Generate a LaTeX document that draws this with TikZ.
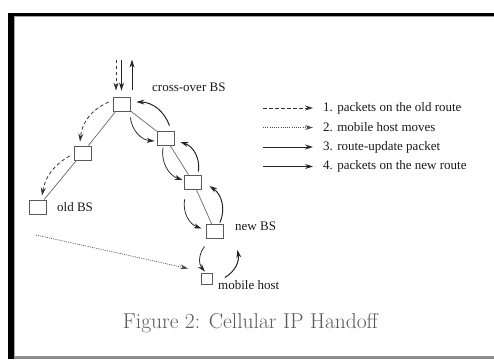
\documentclass[tikz,border=0pt]{standalone}
\usepackage{fontspec}
\usetikzlibrary{arrows.meta}
\newfontfamily\labelfont{Liberation Serif}

\begin{document}
\begin{tikzpicture}[x=1pt,y=-1pt,
  box/.style={draw=black!65,line width=0.8pt,minimum width=17pt,minimum height=14pt,inner sep=0pt},
  hostbox/.style={box,minimum width=11pt,minimum height=11pt},
  lbl/.style={font=\labelfont\fontsize{13}{15}\selectfont,text=black!90,inner sep=0pt,anchor=west},
  link/.style={draw=black!60,line width=0.7pt},
  tip/.style={-{Stealth[length=8pt,width=5pt]}},
  oldpk/.style={tip,black!80,line width=0.8pt,dash pattern=on 3.5pt off 2.5pt},
  moves/.style={tip,black!70,line width=0.7pt,dash pattern=on 1pt off 1.2pt},
  update/.style={tip,black!85,line width=1pt},
  newpk/.style={tip,black!85,line width=0.75pt}]
  \useasboundingbox (0,0) rectangle (494,359);
  % page frame
  \fill[black] (8,13) rectangle (494,15.5);
  \fill[black] (8,13) rectangle (14,359);
  \fill[black!35] (14,15.5) rectangle (494,16.5);
  \fill[black!35] (14,15.5) rectangle (15,359);
  \fill[black!45] (14,355.5) rectangle (494,359);

  % base stations
  \node[box] (xo) at (121.5,104) {};
  \node[box] (m1) at (82.5,153) {};
  \node[box] (old) at (38,207) {};
  \node[box] (r1) at (165.5,138) {};
  \node[box] (r2) at (193,182) {};
  \node[box] (nbs) at (215,231.5) {};
  \node[hostbox] (mh) at (207,278.5) {};

  \draw[link] (xo) -- (m1) -- (old);
  \draw[link] (xo) -- (r1) -- (r2) -- (nbs);

  \node[lbl] (xolbl) at (152,87) {cross-over BS};
  \node[lbl] (oldlbl) at (57,207) {old BS};
  \node[lbl] (nbslbl) at (235,226) {new BS};
  \node[lbl] (mhlbl) at (218,285) {mobile host};

  % traffic at the cross-over BS
  \draw[oldpk] ([shift={(-5.5,-37)}]xo.north) -- ([shift={(-5.5,-6)}]xo.north);
  \draw[newpk] ([shift={(0,-37)}]xo.north) -- ([shift={(0,-6)}]xo.north);
  \draw[update] ([shift={(10.5,-7)}]xo.north) -- ([shift={(10.5,-37)}]xo.north);

  % old route
  \draw[oldpk] ([shift={(-4,-2)}]xo.west) to[bend right=30] ([shift={(-2.5,-4)}]m1.north);
  \draw[oldpk] ([shift={(-4,3)}]m1.west) to[bend right=25] ([shift={(4,-4)}]old.north);

  % new route, downwards
  \draw[newpk] ([shift={(0,6)}]xo.south east) to[bend right=40] ([shift={(-2,3)}]r1.west);
  \draw[newpk] ([shift={(-2.5,2)}]r1.south) to[bend right=40] ([shift={(-1.5,-2)}]r2.west);
  \draw[newpk] ([shift={(0.5,10)}]r2.south west) to[bend right=40] ([shift={(-4.5,-3)}]nbs.west);
  \draw[newpk] ([shift={(-1.5,7.5)}]nbs.south west) to[bend right=40] ([shift={(-2,-1)}]mh.north);

  % route-update, upwards
  \draw[update] ([shift={(12,-1)}]mh.east) to[bend right=35] ([shift={(13.5,11)}]nbs.south east);
  \draw[update] ([shift={(-4,-1.5)}]nbs.north east) to[bend right=40] ([shift={(7.5,4)}]r2.east);
  \draw[update] ([shift={(-3.5,-3)}]r2.north east) to[bend right=40] ([shift={(6,4)}]r1.east);
  \draw[update] ([shift={(-5,-5)}]r1.north east) to[bend right=35] ([shift={(6,-2)}]xo.east);

  % host moves
  \coordinate (from) at (36,235);
  \draw[moves] (from) -- ([shift={(-13,-10)}]mh.west);

  % legend
  \node[lbl] (k1) at (323,108) {1. packets on the old route};
  \node[lbl] (k2) at (323,127.5) {2. mobile host moves};
  \node[lbl] (k3) at (323,147) {3. route-update packet};
  \node[lbl] (k4) at (323,166.5) {4. packets on the new route};
  \coordinate (s1) at (263,108);
  \coordinate (s2) at (263,127.5);
  \coordinate (s3) at (263,147);
  \coordinate (s4) at (263,166.5);
  \draw[oldpk,shorten >=10pt] (s1) -- (s1 -| k1.west);
  \draw[moves,shorten >=10pt] (s2) -- (s2 -| k2.west);
  \draw[update,shorten >=10pt] (s3) -- (s3 -| k3.west);
  \draw[newpk,shorten >=10pt] (s4) -- (s4 -| k4.west);

  \node[font=\fontsize{21.5}{25}\selectfont,text=black!65] (cap) at (250.5,323) {Figure 2: Cellular IP Handoff};
\end{tikzpicture}
\end{document}
